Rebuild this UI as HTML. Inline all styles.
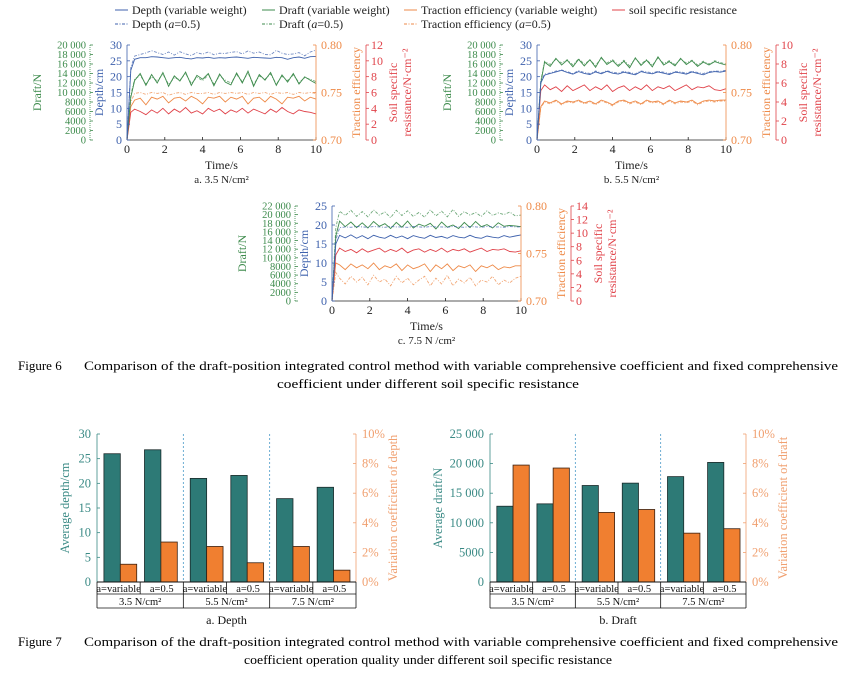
<!DOCTYPE html>
<html><head><meta charset="utf-8">
<style>
html,body{margin:0;padding:0;background:#fff;}
svg{display:block;font-family:"Liberation Serif",serif;}
</style></head>
<body>
<svg id="s" width="856" height="682" viewBox="0 0 856 682" xmlns="http://www.w3.org/2000/svg">
<g id="legend"></g>
<g id="charts"></g>
<text x="18" y="370" font-size="13">Figure 6</text>
<text x="84" y="370" font-size="13" textLength="754" lengthAdjust="spacingAndGlyphs">Comparison of the draft-position integrated control method with variable comprehensive coefficient and fixed comprehensive</text>
<text x="428" y="388" font-size="13" text-anchor="middle" textLength="302" lengthAdjust="spacingAndGlyphs">coefficient under different soil specific resistance</text>
<text x="18" y="646" font-size="13">Figure 7</text>
<text x="84" y="646" font-size="13" textLength="754" lengthAdjust="spacingAndGlyphs">Comparison of the draft-position integrated control method with variable comprehensive coefficient and fixed comprehensive</text>
<text x="428" y="664" font-size="13" text-anchor="middle" textLength="368" lengthAdjust="spacingAndGlyphs">coefficient operation quality under different soil specific resistance</text>
</svg>
<script>
// ---------- data: time series ----------
const times=[0,0.2,0.4,0.7,1.0,1.3,1.6,1.9,2.2,2.5,2.8,3.1,3.4,3.7,4.0,4.3,4.6,4.9,5.2,5.5,5.8,6.1,6.4,6.7,7.0,7.3,7.6,7.9,8.2,8.5,8.8,9.1,9.4,9.7,10.0];
// chart a (3.5 N/cm2)
const aDepthVar=[0,22,25.5,26,26,26.3,26.2,26,25.8,26,26.1,25.8,25.6,26,25.9,26.1,25.8,26,25.9,26.1,26.2,26,25.8,26.1,26,25.9,25.8,26.1,26,25.5,26,26.2,25.8,26.3,26.4];
const aDepthA=[0,23,26.5,27,27.5,28.2,27.6,27,27.8,26.8,27.9,27.2,26.7,27.6,27.1,27.8,26.9,27.4,27.3,27.7,27.9,27.2,28.1,27.4,27.8,27,26.9,28.3,27.4,27,27.2,27.6,26.6,27.8,28.4];
const aDraftVar=[0,9000,12500,14000,11500,13800,12000,14200,11300,13500,12400,14300,11500,13600,12800,14000,11400,13900,12200,11600,14100,12000,14500,11300,13800,12600,14200,11500,13700,12200,14000,11800,13300,12600,11900];
const aDraftA=[0,9500,12800,13600,11800,13300,12400,13900,11700,13100,12700,14000,11900,13200,12500,13700,11800,13500,12600,12000,13800,12300,14100,11700,13500,12800,13900,11800,13400,12500,13700,12100,13100,12800,12300];
const aTracVar=[0.70,0.735,0.742,0.744,0.737,0.745,0.743,0.746,0.739,0.744,0.745,0.741,0.746,0.743,0.738,0.745,0.744,0.746,0.74,0.745,0.743,0.746,0.738,0.744,0.745,0.74,0.746,0.743,0.738,0.745,0.744,0.746,0.741,0.745,0.743];
const aTracA=[0.70,0.74,0.749,0.75,0.748,0.75,0.749,0.75,0.747,0.749,0.75,0.748,0.75,0.749,0.749,0.75,0.748,0.75,0.749,0.75,0.749,0.75,0.748,0.75,0.749,0.75,0.748,0.75,0.749,0.75,0.748,0.75,0.749,0.75,0.749];
const aSoil=[0,3.5,3.9,3.6,3.2,3.8,3.4,4.0,3.3,3.9,3.5,4.1,3.4,3.7,3.3,4.0,3.6,3.9,3.3,3.8,3.5,4.0,3.4,3.9,3.6,3.3,3.9,3.5,4.1,3.6,3.3,3.8,3.6,3.5,3.3];
// chart b (5.5 N/cm2)
const bDepthVar=[0,18,20.5,21,21.5,22,21.3,20.8,21.6,21,20.7,21.5,20.9,21.7,21.1,20.8,21.4,21,20.6,21.6,21.2,20.9,21.5,21.1,20.7,21.4,21.2,20.8,21.5,21,20.6,21.3,21.6,21.4,21.8];
const bDepthA=[0,18.5,20.8,21.2,21.8,22.1,21.6,21,21.9,21.3,21,21.8,21.2,21.9,21.4,21.1,21.7,21.3,20.9,21.8,21.5,21.2,21.7,21.4,21,21.6,21.5,21.1,21.7,21.3,21,21.6,21.8,21.7,22];
const bDraftVar=[0,12000,16400,15500,17200,15800,16800,15400,17000,15600,16900,15300,17400,15900,16700,15500,16600,15200,17300,15700,16800,15400,17500,15800,16500,15600,17200,15900,16700,15500,16400,15800,16500,16100,15800];
const bDraftA=[0,12500,16600,15900,17000,16200,16900,15800,17100,16000,16800,15700,17200,16200,16900,15800,16800,15600,17100,16000,16900,15700,17300,16100,16700,15900,17000,16200,16800,15800,16600,16000,16700,16300,16000];
const bTracVar=[0.70,0.735,0.741,0.739,0.742,0.738,0.741,0.74,0.742,0.739,0.741,0.738,0.742,0.74,0.737,0.741,0.742,0.739,0.741,0.738,0.742,0.74,0.741,0.738,0.742,0.739,0.741,0.74,0.742,0.738,0.741,0.742,0.741,0.742,0.742];
const bTracA=[0.70,0.734,0.74,0.738,0.741,0.737,0.74,0.739,0.741,0.738,0.74,0.737,0.741,0.739,0.736,0.74,0.741,0.738,0.74,0.737,0.741,0.739,0.74,0.737,0.741,0.738,0.74,0.739,0.741,0.737,0.74,0.741,0.74,0.741,0.741];
const bSoil=[0,5.2,5.8,5.3,5.6,5.1,5.7,5.2,5.5,5.8,5.2,5.6,5.3,5.8,5.1,5.5,5.7,5.2,5.6,5.3,5.8,5.2,5.6,5.4,5.7,5.2,5.5,5.8,5.3,5.6,5.5,5.7,5.3,5.2,5.4];
// chart c (7.5 N/cm2)
const cDepthVar=[0,15,17.3,16.6,17.4,16.5,17.2,16.4,17.3,16.8,16.5,17.3,16.6,17.1,16.4,17.2,16.8,16.5,17.3,16.7,17,16.5,17.2,16.8,16.6,17.3,16.7,16.5,17.1,16.8,16.6,17.2,16.8,17.1,17.4];
const cDepthA=[0,16,19.3,19.5,19.4,19.6,19.5,19.4,19.6,19.5,19.4,19.6,19.5,19.5,19.4,19.6,19.5,19.4,19.6,19.5,19.5,19.4,19.6,19.5,19.4,19.6,19.5,19.4,19.6,19.5,19.5,19.4,19.6,19.5,19.5];
const cDraftVar=[0,15000,18500,17200,18300,17000,18100,16900,18400,17300,17900,16800,18200,17100,18500,16900,17800,17300,18000,16700,18300,17100,17600,16800,18200,17000,18400,17200,17700,16900,18100,17300,17500,17400,17200];
const cDraftA=[0,17000,20800,19800,21000,19600,20700,19500,21100,19900,20600,19300,21000,19800,20900,19600,20500,19400,21100,19700,20800,19500,21200,19600,20700,19900,20500,19600,20900,19800,20400,20000,20600,19700,19900];
const cTracVar=[0.70,0.74,0.738,0.733,0.739,0.735,0.738,0.734,0.74,0.733,0.737,0.735,0.739,0.732,0.738,0.734,0.736,0.739,0.731,0.738,0.734,0.739,0.732,0.737,0.735,0.738,0.731,0.737,0.735,0.738,0.733,0.736,0.735,0.737,0.737];
const cTracA=[0.70,0.73,0.724,0.718,0.726,0.72,0.725,0.717,0.727,0.72,0.723,0.716,0.726,0.719,0.724,0.717,0.722,0.726,0.716,0.724,0.718,0.727,0.716,0.723,0.719,0.725,0.716,0.722,0.72,0.726,0.717,0.722,0.719,0.724,0.726];
const cSoil=[0,6.8,7.8,7.3,7.6,7.1,7.7,7.2,7.5,7.8,7.2,7.6,7.3,7.8,7.1,7.5,7.7,7.2,7.6,7.3,7.8,7.2,7.6,7.4,7.7,7.2,7.5,7.8,7.3,7.6,7.5,7.7,7.3,7.2,7.4];

// ---------- data: bar charts ----------
const barGroups=["3.5 N/cm²","5.5 N/cm²","7.5 N/cm²"];
const barSubs=["a=variable","a=0.5"];
const avgDepth=[26,26.8,21,21.6,16.9,19.2];
const cvDepth=[1.2,2.7,2.4,1.3,2.4,0.8];
const avgDraft=[12800,13200,16300,16700,17800,20200];
const cvDraft=[7.9,7.7,4.7,4.9,3.3,3.6];
const depthTicks=[0,5,10,15,20,25,30];
const draftBarTicks=[0,5000,10000,15000,20000,25000];
const cvTicks=[0,2,4,6,8,10];

const NS="http://www.w3.org/2000/svg";
const root=document.getElementById('charts');
function el(tag,attrs,parent,txt){const e=document.createElementNS(NS,tag);for(const k in attrs)e.setAttribute(k,attrs[k]);if(txt!==undefined)e.textContent=txt;(parent||root).appendChild(e);return e;}
function fmt(v){return v>=10000?String(Math.floor(v/1000))+" "+String(v%1000).padStart(3,'0'):String(v);}

const C={blue:"#3f62ad",green:"#3d8b4c",orange:"#ee8a48",red:"#e0434a"};

function tsChart(name,ox,oy,depthMax,depthStep,draftMax,soilMax,soilStep,S,caption){
  const g=el('g',{});
  
  
  const L=127+ox,R=316+ox,T=45+oy,B=140+oy;
  const xs=t=>L+(t/10)*(R-L);
  const yD=v=>B-(v/depthMax)*(B-T);
  const yF=v=>B-(v/draftMax)*(B-T);
  const yT=v=>B-((v-0.7)/0.1)*(B-T);
  const yS=v=>B-(v/soilMax)*(B-T);
  function line(arr,ys,col,dash,nm,w){
    const p=el('polyline',{points:times.map((t,i)=>xs(t).toFixed(1)+","+ys(arr[i]).toFixed(1)).join(" "),fill:"none",stroke:col,"stroke-width":w||0.9,"stroke-dasharray":dash||"none",opacity:dash?0.75:1},g);
    
    
  }
  line(S.tracA,yT,C.orange,"3,1.5,1,1.5","traction-a05-line");
  line(S.tracVar,yT,C.orange,null,"traction-variable-line");
  line(S.soil,yS,C.red,null,"soil-resistance-line");
  line(S.draftA,yF,C.green,"3,1.5,1,1.5","draft-a05-line");
  line(S.draftVar,yF,C.green,null,"draft-variable-line");
  line(S.depthA,yD,C.blue,"3,1.5,1,1.5","depth-a05-line");
  line(S.depthVar,yD,C.blue,null,"depth-variable-line");
  el('line',{x1:L,y1:B,x2:R,y2:B,stroke:"#222","stroke-width":0.8},g);
  for(let t=0;t<=10;t+=2){
    el('line',{x1:xs(t),y1:B,x2:xs(t),y2:B-3,stroke:"#222","stroke-width":0.8},g);
    const tx=el('text',{x:xs(t),y:B+13,"font-size":12,"text-anchor":"middle",fill:"#222"},g,String(t));
    
  }
  el('text',{x:(L+R)/2,y:B+29,"font-size":12,"text-anchor":"middle",fill:"#222"},g,"Time/s");
  el('text',{x:(L+R)/2,y:B+43,"font-size":11,"text-anchor":"middle",fill:"#222"},g,caption);
  el('line',{x1:L,y1:T,x2:L,y2:B,stroke:C.blue,"stroke-width":0.8},g);
  for(let v=0;v<=depthMax;v+=depthStep){
    el('line',{x1:L,y1:yD(v),x2:L+3,y2:yD(v),stroke:C.blue,"stroke-width":0.8},g);
    el('text',{x:L-5,y:yD(v)+4,"font-size":12,"text-anchor":"end",fill:C.blue},g,String(v));
  }
  el('text',{transform:`translate(${L-24},${(T+B)/2}) rotate(-90)`,"font-size":12,"text-anchor":"middle",fill:C.blue},g,"Depth/cm");
  const dx=L-37;
  el('line',{x1:dx,y1:T,x2:dx,y2:B,stroke:C.green,"stroke-width":0.8,"stroke-dasharray":"1,1"},g);
  for(let v=0;v<=draftMax;v+=2000){
    el('line',{x1:dx,y1:yF(v),x2:dx+3,y2:yF(v),stroke:C.green,"stroke-width":0.8},g);
    el('text',{x:dx-4,y:yF(v)+3.5,"font-size":10.5,"text-anchor":"end",fill:C.green},g,fmt(v));
  }
  el('text',{transform:`translate(${L-86},${(T+B)/2}) rotate(-90)`,"font-size":12,"text-anchor":"middle",fill:C.green},g,"Draft/N");
  el('line',{x1:R,y1:T,x2:R,y2:B,stroke:C.orange,"stroke-width":0.8},g);
  [0.70,0.75,0.80].forEach(v=>{
    el('line',{x1:R,y1:yT(v),x2:R-3,y2:yT(v),stroke:C.orange,"stroke-width":0.8},g);
    el('text',{x:R+5,y:yT(v)+4,"font-size":12,fill:C.orange},g,v.toFixed(2));
  });
  el('text',{transform:`translate(${R+44},${(T+B)/2}) rotate(-90)`,"font-size":12,"text-anchor":"middle",fill:C.orange},g,"Traction efficiency");
  const sx=R+50;
  el('line',{x1:sx,y1:T,x2:sx,y2:B,stroke:C.red,"stroke-width":0.8},g);
  for(let v=0;v<=soilMax;v+=soilStep){
    el('line',{x1:sx,y1:yS(v),x2:sx+3,y2:yS(v),stroke:C.red,"stroke-width":0.8},g);
    el('text',{x:sx+5,y:yS(v)+4,"font-size":12,fill:C.red},g,String(v));
  }
  el('text',{transform:`translate(${sx+31},${(T+B)/2}) rotate(-90)`,"font-size":12,"text-anchor":"middle",fill:C.red},g,"Soil specific");
  el('text',{transform:`translate(${sx+45},${(T+B)/2}) rotate(-90)`,"font-size":12,"text-anchor":"middle",fill:C.red},g,"resistance/N·cm⁻²");
}
tsChart('chart-a-3-5',0,0,30,5,20000,12,2,{depthVar:aDepthVar,depthA:aDepthA,draftVar:aDraftVar,draftA:aDraftA,tracVar:aTracVar,tracA:aTracA,soil:aSoil},"a. 3.5 N/cm²");
tsChart('chart-b-5-5',410,0,30,5,20000,10,2,{depthVar:bDepthVar,depthA:bDepthA,draftVar:bDraftVar,draftA:bDraftA,tracVar:bTracVar,tracA:bTracA,soil:bSoil},"b. 5.5 N/cm²");
tsChart('chart-c-7-5',205,161,25,5,22000,14,2,{depthVar:cDepthVar,depthA:cDepthA,draftVar:cDraftVar,draftA:cDraftA,tracVar:cTracVar,tracA:cTracA,soil:cSoil},"c. 7.5 N /cm²");

const lg=document.getElementById('legend');
[[115,14,C.blue,0,"Depth (variable weight)"],[262,14,C.green,0,"Draft (variable weight)"],[404,14,C.orange,0,"Traction efficiency (variable weight)"],[612,14,C.red,0,"soil specific resistance"],
 [115,28,C.blue,1,"Depth (<i>a</i>=0.5)"],[262,28,C.green,1,"Draft (<i>a</i>=0.5)"],[404,28,C.orange,1,"Traction efficiency (<i>a</i>=0.5)"]].forEach(d=>{
  const e=el('g',{},lg);
  
  
  el('line',{x1:d[0],y1:d[1]-4,x2:d[0]+13,y2:d[1]-4,stroke:d[2],"stroke-width":1,"stroke-dasharray":d[3]?"3,1.5,1,1.5":"none"},e);
  const t=el('text',{x:d[0]+17,y:d[1],"font-size":12,fill:"#222"},e);
  t.innerHTML=d[4].replace(/<i>a<\/i>/,'<tspan font-style="italic">a</tspan>');
});

function barChart(name,L,R,vals,cvs,lTicks,lMax,lLabel,rLabel,caption,lfmt){
  const g=el('g',{});
  
  
  const T=434,B=582;
  const yL=v=>B-(v/lMax)*(B-T);
  const yR=v=>B-(v/10)*(B-T);
  const gw=(R-L)/3;
  [1,2].forEach(k=>el('line',{x1:L+gw*k,y1:T,x2:L+gw*k,y2:B,stroke:"#4a9ac8","stroke-width":0.8,"stroke-dasharray":"2,2"},g));
  vals.forEach((v,i)=>{
    const gi=Math.floor(i/2),si=i%2;
    const x0=L+gw*gi+gw*0.08+si*gw*0.47;
    const bw=gw*0.19;
    const b1=el('rect',{x:x0,y:yL(v),width:bw,height:B-yL(v),fill:"#2d7a76",stroke:"#1a2a2a","stroke-width":0.8},g);
    
    
    const b2=el('rect',{x:x0+bw,y:yR(cvs[i]),width:bw,height:B-yR(cvs[i]),fill:"#f07f30",stroke:"#3a2010","stroke-width":0.8},g);
    
    
  });
  el('line',{x1:L,y1:T,x2:L,y2:B,stroke:"#3a8a85","stroke-width":0.8},g);
  lTicks.forEach(v=>{
    el('line',{x1:L,y1:yL(v),x2:L+3,y2:yL(v),stroke:"#3a8a85","stroke-width":0.8},g);
    el('text',{x:L-6,y:yL(v)+4,"font-size":12.5,"text-anchor":"end",fill:"#3a8a85"},g,lfmt(v));
  });
  el('text',{transform:`translate(${L-28-(lMax>100?20:0)},${(T+B)/2}) rotate(-90)`,"font-size":12.5,"text-anchor":"middle",fill:"#3a8a85"},g,lLabel);
  el('line',{x1:R,y1:T,x2:R,y2:B,stroke:"#f0a070","stroke-width":0.8},g);
  cvTicks.forEach(v=>{
    el('line',{x1:R,y1:yR(v),x2:R-3,y2:yR(v),stroke:"#f0a070","stroke-width":0.8},g);
    el('text',{x:R+6,y:yR(v)+4,"font-size":12.5,fill:"#f0a070"},g,v+"%");
  });
  el('text',{transform:`translate(${R+41},${(T+B)/2}) rotate(-90)`,"font-size":12.5,"text-anchor":"middle",fill:"#f0a070"},g,rLabel);
  el('line',{x1:L,y1:B,x2:R,y2:B,stroke:"#111","stroke-width":1},g);
  el('line',{x1:L,y1:B+12,x2:R,y2:B+12,stroke:"#111","stroke-width":0.8},g);
  el('line',{x1:L,y1:B+26,x2:R,y2:B+26,stroke:"#111","stroke-width":0.8},g);
  [0,1,2,3].forEach(k=>el('line',{x1:L+gw*k,y1:B,x2:L+gw*k,y2:B+26,stroke:"#111","stroke-width":0.8},g));
  barGroups.forEach((gname,k)=>{
    el('line',{x1:L+gw*k+gw/2,y1:B,x2:L+gw*k+gw/2,y2:B+12,stroke:"#111","stroke-width":0.8},g);
    barSubs.forEach((s,j)=>{
      el('text',{x:L+gw*k+gw/4+j*gw/2,y:B+10,"font-size":10.5,"text-anchor":"middle",fill:"#111"},g,s);
    });
    el('text',{x:L+gw*k+gw/2,y:B+23,"font-size":10.5,"text-anchor":"middle",fill:"#111"},g,gname);
  });
  el('text',{x:(L+R)/2,y:624,"font-size":12,"text-anchor":"middle",fill:"#111"},g,caption);
}
barChart('bar-chart-depth',97,356,avgDepth,cvDepth,depthTicks,30,"Average depth/cm","Variation coefficient of depth","a. Depth",v=>String(v));
barChart('bar-chart-draft',490,746,avgDraft,cvDraft,draftBarTicks,25000,"Average draft/N","Variation coefficient of draft","b. Draft",v=>fmt(v));
</script>
</body></html>
